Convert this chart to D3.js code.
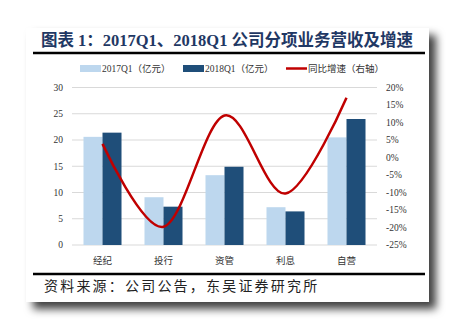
<!DOCTYPE html>
<html><head><meta charset="utf-8">
<script src="https://cdn.jsdelivr.net/npm/d3@7"></script>
<style>body{margin:0;background:#fff}svg{display:block}</style>
</head><body><svg id="c" width="456" height="329"></svg>
<script>
const categories = ["经纪","投行","资管","利息","自营"];
const v2017 = [20.6, 9.1, 13.3, 7.2, 20.5];
const v2018 = [21.4, 7.3, 14.9, 6.4, 24.0];
const growth = [3.9, -19.8, 12.0, -10.3, 17.1];
const leftTicks = [0,5,10,15,20,25,30];
const rightTicks = [20,15,10,5,0,-5,-10,-15,-20,-25];
const seriesNames = ["2017Q1（亿元）","2018Q1（亿元）","同比增速（右轴）"];
const colors = ["#BDD7EE","#1F4E79","#C00000"];

const svg = d3.select("#c");
const defs = svg.append("defs");
const f = defs.append("filter").attr("id","sh").attr("x","-10%").attr("y","-10%").attr("width","130%").attr("height","130%");
f.append("feDropShadow").attr("dx",7).attr("dy",7).attr("stdDeviation",4.5).attr("flood-color","#000").attr("flood-opacity",0.75);

svg.append("rect").attr("x",26).attr("y",28).attr("width",403).attr("height",274).attr("fill","#fff").attr("filter","url(#sh)");

// title
svg.append("text").attr("x",227).attr("y",46).attr("text-anchor","middle")
  .attr("font-family","'Liberation Serif','Noto Sans CJK SC'").attr("font-weight","bold")
  .attr("font-size",16.5).attr("fill","#1F3864")
  .text("图表 1：2017Q1、2018Q1 公司分项业务营收及增速");
svg.append("line").attr("x1",33).attr("x2",425).attr("y1",53).attr("y2",53).attr("stroke","#000").attr("stroke-width",2.5);
svg.append("line").attr("x1",33).attr("x2",425).attr("y1",274).attr("y2",274).attr("stroke","#000").attr("stroke-width",2.5);
svg.append("text").attr("x",44).attr("y",291)
  .attr("font-family","'Noto Sans CJK SC'").attr("font-size",14).attr("letter-spacing",2.2).attr("fill","#222")
  .text("资料来源：公司公告，东吴证券研究所");

const x = d3.scaleBand().domain(categories).range([72,377]);
const x1 = d3.scaleBand().domain([0,1]).range([0,x.bandwidth()]).paddingOuter(0.605);
const y = d3.scaleLinear().domain([0,30]).range([245,87.5]);
const y2 = d3.scaleLinear().domain([-25,20]).range([245,87.5]);

const numFont = "'Liberation Serif','Noto Sans CJK SC'";
// grid
svg.append("g").selectAll("line").data(leftTicks).join("line")
  .attr("x1",72).attr("x2",377).attr("y1",d=>y(d)).attr("y2",d=>y(d))
  .attr("stroke","#D9D9D9").attr("stroke-width",1);
// left labels
svg.append("g").selectAll("text").data(leftTicks).join("text")
  .attr("x",63).attr("y",d=>y(d)).attr("dy","0.35em").attr("text-anchor","end")
  .attr("font-family",numFont).attr("font-size",9.5).attr("fill","#333").text(d=>d);
// right labels
svg.append("g").selectAll("text").data(rightTicks).join("text")
  .attr("x",386).attr("y",d=>y2(d)).attr("dy","0.35em").attr("text-anchor","start")
  .attr("font-family",numFont).attr("font-size",9.5).attr("fill","#333").text(d=>d+"%");
// category labels
svg.append("g").selectAll("text").data(categories).join("text")
  .attr("x",d=>x(d)+x.bandwidth()/2).attr("y",261).attr("dy","0.35em").attr("text-anchor","middle")
  .attr("font-family","'Noto Sans CJK SC'").attr("font-size",9.5).attr("fill","#333").text(d=>d);

// bars
[v2017,v2018].forEach((vals,si)=>{
  svg.append("g").selectAll("rect").data(vals).join("rect")
    .attr("x",(d,i)=>x(categories[i])+x1(si)).attr("width",x1.bandwidth())
    .attr("y",d=>y(d)).attr("height",d=>y(0)-y(d)).attr("fill",colors[si]);
});

// line
const line = d3.line().x((d,i)=>x(categories[i])+x.bandwidth()/2).y(d=>y2(d)).curve(d3.curveCatmullRom.alpha(0));
svg.append("path").datum(growth).attr("d",line).attr("fill","none").attr("stroke",colors[2]).attr("stroke-width",2.5);

// legend
const lg = svg.append("g").attr("font-family",numFont).attr("font-size",9.5).attr("fill","#333");
const lx = [80,183,286];
seriesNames.forEach((n,i)=>{
  if(i<2) lg.append("rect").attr("x",lx[i]).attr("y",65).attr("width",21).attr("height",7).attr("fill",colors[i]);
  else lg.append("line").attr("x1",lx[i]).attr("x2",lx[i]+21).attr("y1",68.5).attr("y2",68.5).attr("stroke",colors[i]).attr("stroke-width",2.5);
  lg.append("text").attr("x",lx[i]+22).attr("y",68.5).attr("dy","0.35em").text(n);
});
</script></body></html>
